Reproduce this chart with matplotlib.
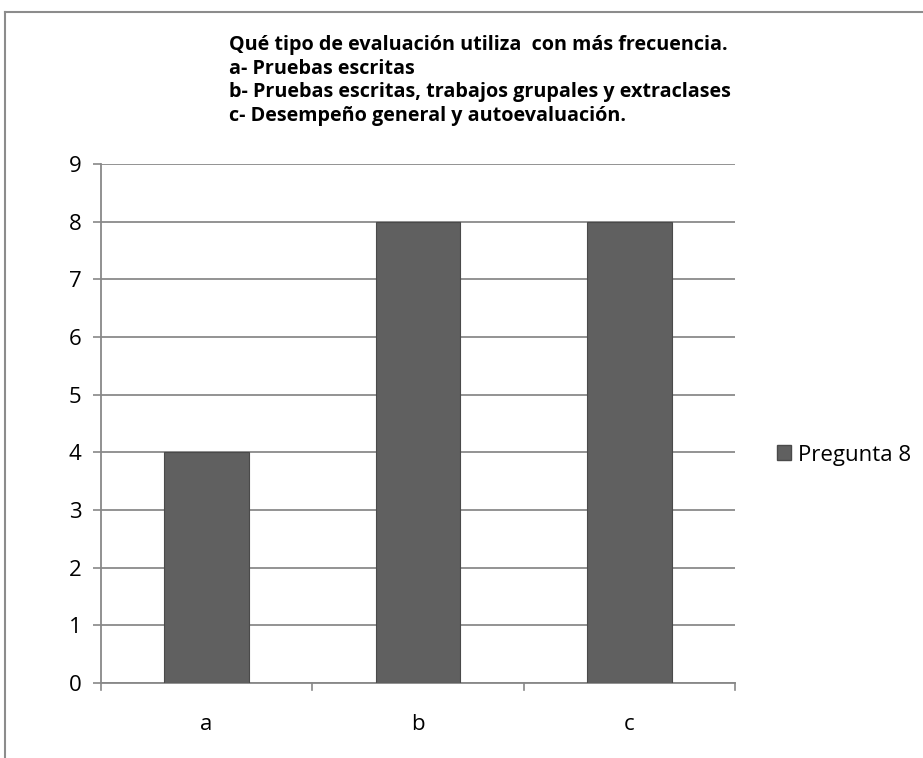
import matplotlib
matplotlib.use("Agg")
import matplotlib.pyplot as plt
from matplotlib.lines import Line2D
from matplotlib.patches import Patch

categories = ["a", "b", "c"]
values = [4, 8, 8]
series_name = "Pregunta 8"
y_ticks = list(range(0, 10))
title_lines = [
    "Qué tipo de evaluación utiliza  con más frecuencia.",
    "a- Pruebas escritas",
    "b- Pruebas escritas, trabajos grupales y extraclases",
    "c- Desempeño general y autoevaluación.",
]

W, H = 923, 758
fig = plt.figure(figsize=(W / 100, H / 100), dpi=100)
fig.patch.set_facecolor("white")

# outer chart frame (top and left edges)
fig.add_artist(Line2D([5 / W, 5 / W], [0, 1 - 12 / H], transform=fig.transFigure,
                      color="#8c8c8c", lw=1.5))
fig.add_artist(Line2D([5 / W, 1], [1 - 12 / H, 1 - 12 / H], transform=fig.transFigure,
                      color="#8c8c8c", lw=1.5))

left, right, top, bottom = 101, 735, 164, 683
ax = fig.add_axes([left / W, 1 - bottom / H, (right - left) / W, (bottom - top) / H])

x = list(range(len(categories)))
ax.bar(x, values, width=0.4, color="#606060", edgecolor="#4a4a4a", linewidth=0.8,
       zorder=3, label=series_name)

ax.set_xlim(-0.5, len(categories) - 0.5)
ax.set_ylim(0, 9)
ax.set_yticks(y_ticks)
ax.set_yticklabels([str(t) for t in y_ticks], fontsize=16, family="Open Sans")
ax.set_xticks(x)
ax.set_xticklabels(categories, fontsize=16, family="Open Sans")
ax.tick_params(axis="x", length=0, pad=22)
ax.tick_params(axis="y", length=6, width=1.2, color="#888888", pad=8)

# category boundary ticks on the x axis
for b in [i - 0.5 for i in range(len(categories) + 1)]:
    ax.add_artist(Line2D([b, b], [0, -0.12], color="#888888", lw=1.2, clip_on=False,
                         zorder=4))

ax.yaxis.grid(True, color="#8a8a8a", lw=1.3, zorder=0)
ax.set_axisbelow(True)
for side in ["top", "right"]:
    ax.spines[side].set_visible(False)
ax.spines["left"].set_color("#888888")
ax.spines["left"].set_linewidth(1.3)
ax.spines["bottom"].set_color("#888888")
ax.spines["bottom"].set_linewidth(1.3)

# title block
for i, line in enumerate(title_lines):
    fig.text(229 / W, 1 - (45 + i * 23.7) / H, line, fontsize=14.2, fontweight="bold",
             family="Open Sans", ha="left", va="center")

handles = [Patch(facecolor="#606060", edgecolor="#4a4a4a", label=series_name)]
fig.legend(handles=handles, loc="center left", bbox_to_anchor=(757 / W, 1 - 455 / H),
           frameon=False, prop={"family": "Open Sans", "size": 16},
           handlelength=0.65, handleheight=0.65, handletextpad=0.3)

fig.savefig("out.png", dpi=100)
